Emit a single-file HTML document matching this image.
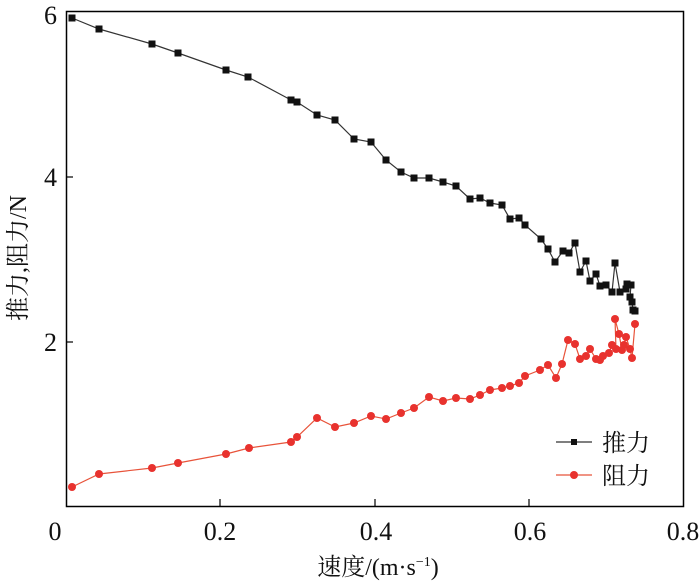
<!DOCTYPE html><html><head><meta charset="utf-8"><style>body{margin:0;background:#fff}svg{display:block}text{font-family:"Liberation Serif","Times New Roman",serif;fill:#111}.cj{font-family:"Liberation Serif","Noto Serif CJK SC",serif}</style></head><body>
<svg width="700" height="582" viewBox="0 0 700 582">
<rect x="66.5" y="11.5" width="617" height="495" fill="none" stroke="#000" stroke-width="1.5"/>
<g stroke="#000" stroke-width="1.2"><line x1="220" y1="506" x2="220" y2="499"/><line x1="375" y1="506" x2="375" y2="499"/><line x1="529" y1="506" x2="529" y2="499"/><line x1="66" y1="177" x2="73" y2="177"/><line x1="66" y1="342" x2="73" y2="342"/></g>
<g font-size="26" text-anchor="middle"><text x="55" y="540">0</text><text x="220" y="540">0.2</text><text x="376" y="540">0.4</text><text x="530" y="540">0.6</text><text x="683" y="540">0.8</text>
<text x="57" y="24" text-anchor="end">6</text><text x="57" y="186" text-anchor="end">4</text><text x="57" y="351" text-anchor="end">2</text></g>
<text class="cj" x="378" y="575" font-size="24" text-anchor="middle">速度/(m·s<tspan font-size="14" dy="-9">−1</tspan><tspan dy="9">)</tspan></text>
<text class="cj" transform="translate(26,258) rotate(-90)" font-size="24" text-anchor="middle">推力,阻力/N</text>
<polyline fill="none" stroke="#333" stroke-width="1.2" points="72,18 99,29 152,44 178,53 226,70 248,77 291,100 297,102 317,115 335,120 354,139 371,142 386,160 401,172 414,178 429,178 443,182 456,186 470,199 480,198 490,203 502,205 510,219 519,218 525,225 541,239 548,249 555,262 563,251 569,253 575,243 580,272 586,261 590,281 596,274 600,286 606,285 612,292 615,263 620,292 626,289 627,284 631,285 630,297 632,302 633,310 635,311"/>
<g fill="#111">
<rect x="68.5" y="14.5" width="7" height="7"/><rect x="95.5" y="25.5" width="7" height="7"/><rect x="148.5" y="40.5" width="7" height="7"/><rect x="174.5" y="49.5" width="7" height="7"/><rect x="222.5" y="66.5" width="7" height="7"/><rect x="244.5" y="73.5" width="7" height="7"/><rect x="287.5" y="96.5" width="7" height="7"/><rect x="293.5" y="98.5" width="7" height="7"/><rect x="313.5" y="111.5" width="7" height="7"/><rect x="331.5" y="116.5" width="7" height="7"/><rect x="350.5" y="135.5" width="7" height="7"/><rect x="367.5" y="138.5" width="7" height="7"/><rect x="382.5" y="156.5" width="7" height="7"/><rect x="397.5" y="168.5" width="7" height="7"/><rect x="410.5" y="174.5" width="7" height="7"/><rect x="425.5" y="174.5" width="7" height="7"/><rect x="439.5" y="178.5" width="7" height="7"/><rect x="452.5" y="182.5" width="7" height="7"/><rect x="466.5" y="195.5" width="7" height="7"/><rect x="476.5" y="194.5" width="7" height="7"/><rect x="486.5" y="199.5" width="7" height="7"/><rect x="498.5" y="201.5" width="7" height="7"/><rect x="506.5" y="215.5" width="7" height="7"/><rect x="515.5" y="214.5" width="7" height="7"/><rect x="521.5" y="221.5" width="7" height="7"/><rect x="537.5" y="235.5" width="7" height="7"/><rect x="544.5" y="245.5" width="7" height="7"/><rect x="551.5" y="258.5" width="7" height="7"/><rect x="559.5" y="247.5" width="7" height="7"/><rect x="565.5" y="249.5" width="7" height="7"/><rect x="571.5" y="239.5" width="7" height="7"/><rect x="576.5" y="268.5" width="7" height="7"/><rect x="582.5" y="257.5" width="7" height="7"/><rect x="586.5" y="277.5" width="7" height="7"/><rect x="592.5" y="270.5" width="7" height="7"/><rect x="596.5" y="282.5" width="7" height="7"/><rect x="602.5" y="281.5" width="7" height="7"/><rect x="608.5" y="288.5" width="7" height="7"/><rect x="611.5" y="259.5" width="7" height="7"/><rect x="616.5" y="288.5" width="7" height="7"/><rect x="622.5" y="285.5" width="7" height="7"/><rect x="623.5" y="280.5" width="7" height="7"/><rect x="627.5" y="281.5" width="7" height="7"/><rect x="626.5" y="293.5" width="7" height="7"/><rect x="628.5" y="298.5" width="7" height="7"/><rect x="629.5" y="306.5" width="7" height="7"/><rect x="631.5" y="307.5" width="7" height="7"/>
</g>
<polyline fill="none" stroke="#e8533a" stroke-width="1.2" points="72,487 99,474 152,468 178,463 226,454 249,448 291,442 297,437 317,418 335,427 354,423 371,416 386,419 401,413 414,408 429,397 443,401 456,398 470,399 480,395 490,390 502,388 510,386 519,383 525,376 540,370 548,365 556,378 562,364 568,340 575,344 580,359 586,356 590,349 596,359 600,360 603,356 609,353 612,345 616,349 615,319 619,334 622,350 624,345 626,337 630,349 632,358 635,324"/>
<g fill="#e8322e">
<circle cx="72" cy="487" r="4"/><circle cx="99" cy="474" r="4"/><circle cx="152" cy="468" r="4"/><circle cx="178" cy="463" r="4"/><circle cx="226" cy="454" r="4"/><circle cx="249" cy="448" r="4"/><circle cx="291" cy="442" r="4"/><circle cx="297" cy="437" r="4"/><circle cx="317" cy="418" r="4"/><circle cx="335" cy="427" r="4"/><circle cx="354" cy="423" r="4"/><circle cx="371" cy="416" r="4"/><circle cx="386" cy="419" r="4"/><circle cx="401" cy="413" r="4"/><circle cx="414" cy="408" r="4"/><circle cx="429" cy="397" r="4"/><circle cx="443" cy="401" r="4"/><circle cx="456" cy="398" r="4"/><circle cx="470" cy="399" r="4"/><circle cx="480" cy="395" r="4"/><circle cx="490" cy="390" r="4"/><circle cx="502" cy="388" r="4"/><circle cx="510" cy="386" r="4"/><circle cx="519" cy="383" r="4"/><circle cx="525" cy="376" r="4"/><circle cx="540" cy="370" r="4"/><circle cx="548" cy="365" r="4"/><circle cx="556" cy="378" r="4"/><circle cx="562" cy="364" r="4"/><circle cx="568" cy="340" r="4"/><circle cx="575" cy="344" r="4"/><circle cx="580" cy="359" r="4"/><circle cx="586" cy="356" r="4"/><circle cx="590" cy="349" r="4"/><circle cx="596" cy="359" r="4"/><circle cx="600" cy="360" r="4"/><circle cx="603" cy="356" r="4"/><circle cx="609" cy="353" r="4"/><circle cx="612" cy="345" r="4"/><circle cx="616" cy="349" r="4"/><circle cx="615" cy="319" r="4"/><circle cx="619" cy="334" r="4"/><circle cx="622" cy="350" r="4"/><circle cx="624" cy="345" r="4"/><circle cx="626" cy="337" r="4"/><circle cx="630" cy="349" r="4"/><circle cx="632" cy="358" r="4"/><circle cx="635" cy="324" r="4"/>
</g>
<line x1="556" y1="442" x2="592" y2="442" stroke="#333" stroke-width="1.2"/><rect x="571" y="439" width="6" height="6" fill="#111"/>
<line x1="556" y1="475" x2="592" y2="475" stroke="#e8533a" stroke-width="1.2"/><circle cx="574" cy="475" r="4" fill="#e8322e"/>
<text class="cj" x="602" y="451" font-size="24">推力</text><text class="cj" x="602" y="484" font-size="24">阻力</text>
</svg></body></html>
